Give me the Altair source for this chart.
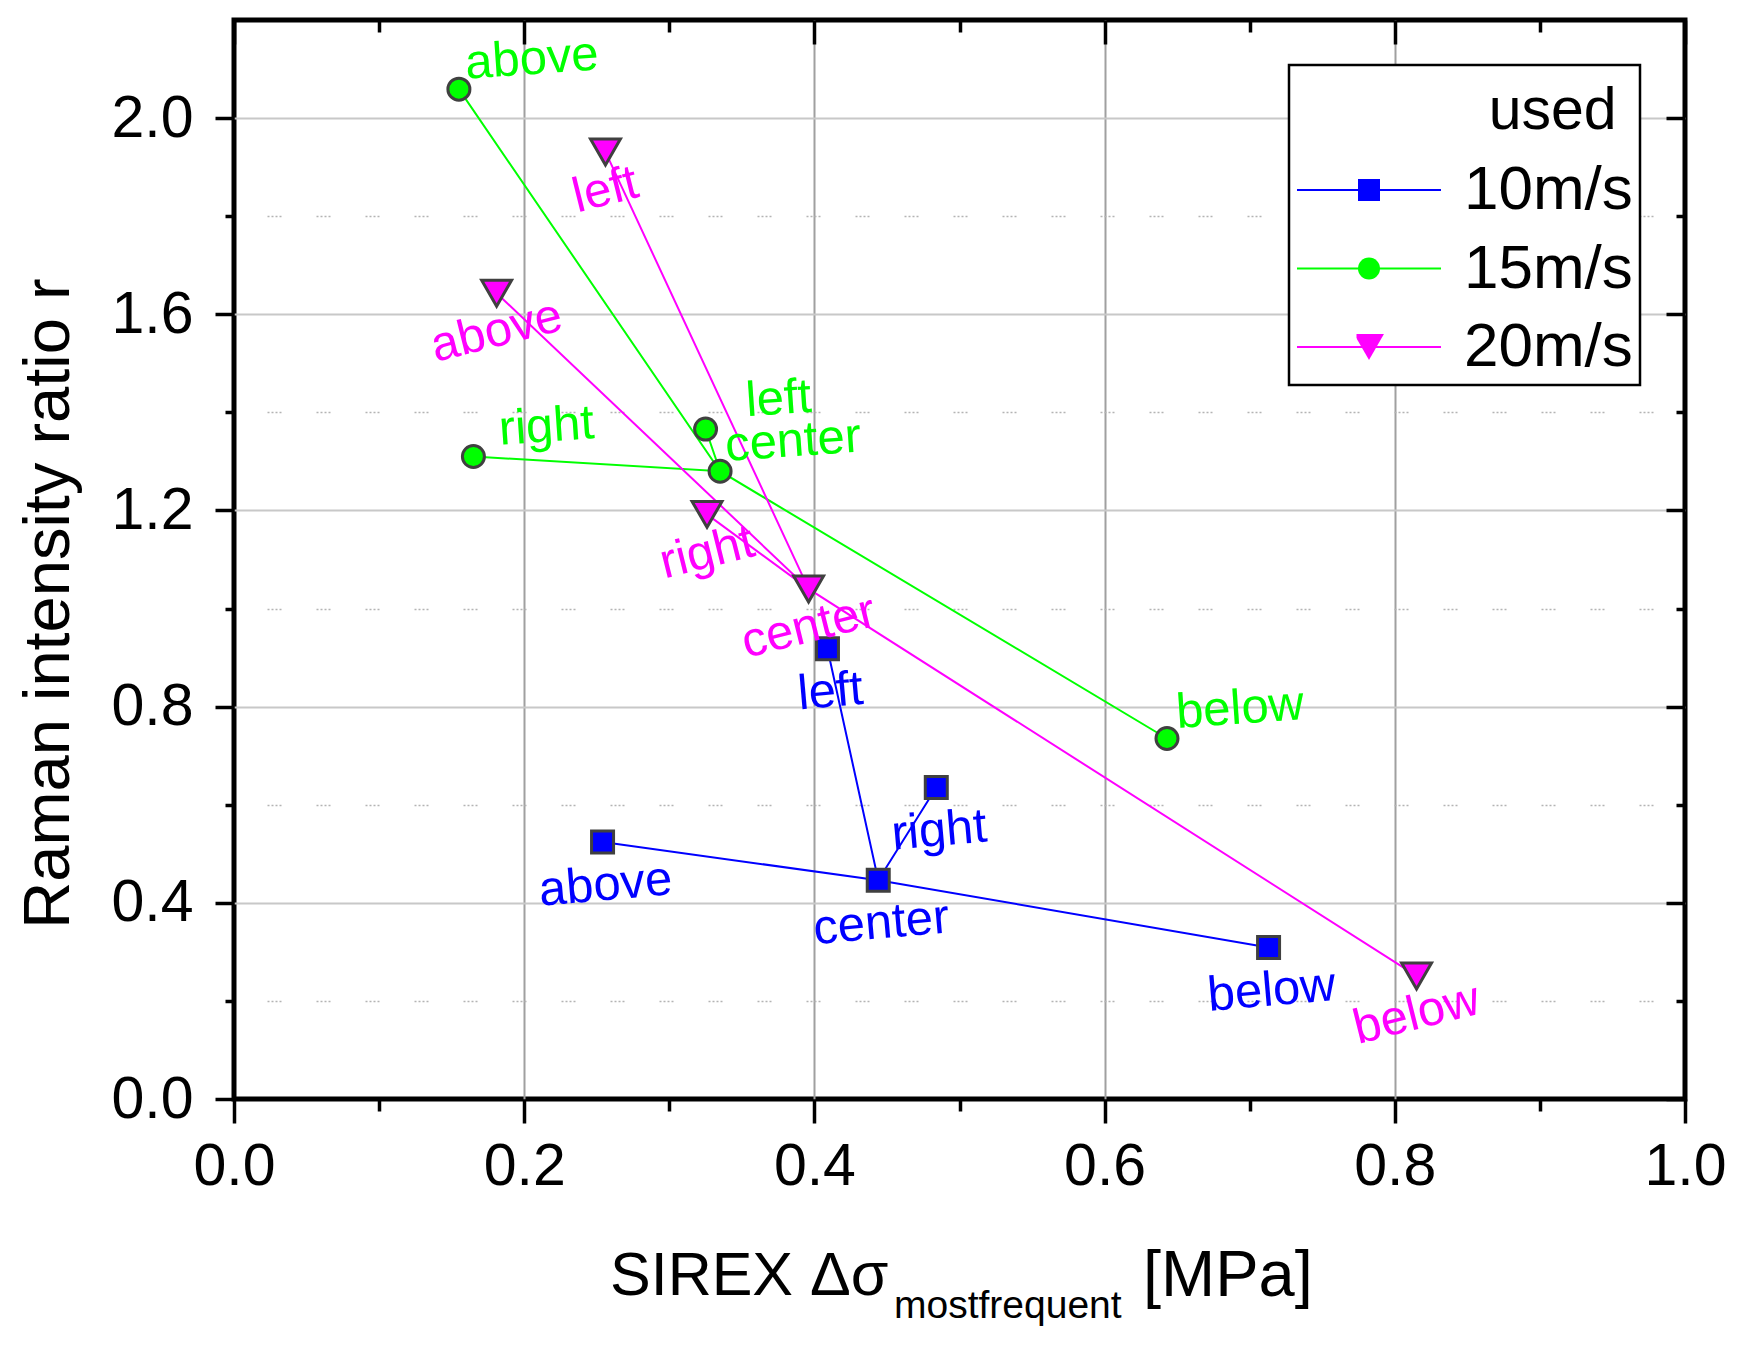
import math
import pandas as pd
import altair as alt

FONT = "Liberation Sans"

# ---------------- data ----------------
positions = ["above", "left", "center", "right", "below"]
series_names = ["10m/s", "15m/s", "20m/s"]
series_colors = ["#0000ff", "#00ff00", "#ff00ff"]

x_10 = [0.254, 0.409, 0.444, 0.484, 0.713]
y_10 = [0.524, 0.918, 0.446, 0.635, 0.309]
x_15 = [0.155, 0.325, 0.335, 0.165, 0.643]
y_15 = [2.059, 1.366, 1.280, 1.310, 0.735]
x_20 = [0.181, 0.256, 0.396, 0.326, 0.815]
y_20 = [1.643, 1.931, 1.040, 1.192, 0.251]

# points are joined as a cross: above-center-below and left-center-right
connections = [["above", "center", "below"], ["left", "center", "right"]]

x_tick_values = [0.0, 0.1, 0.2, 0.3, 0.4, 0.5, 0.6, 0.7, 0.8, 0.9, 1.0]
y_tick_values = [0.0, 0.2, 0.4, 0.6, 0.8, 1.0, 1.2, 1.4, 1.6, 1.8, 2.0]
x_major = [0.0, 0.2, 0.4, 0.6, 0.8, 1.0]
x_minor = [0.1, 0.3, 0.5, 0.7, 0.9]
y_major = [0.0, 0.4, 0.8, 1.2, 1.6, 2.0]
y_minor = [0.2, 0.6, 1.0, 1.4, 1.8]

x_title_parts = ["SIREX \u0394\u03c3", "mostfrequent", "[MPa]"]
y_title = "Raman intensity ratio r"
legend_title = "used"

# ---------------- tables built from the arrays ----------------
xs = {"10m/s": x_10, "15m/s": x_15, "20m/s": x_20}
ys = {"10m/s": y_10, "15m/s": y_15, "20m/s": y_20}

pts = pd.DataFrame([
    {"series": s, "pos": p, "x": xs[s][i], "y": ys[s][i]}
    for s in series_names for i, p in enumerate(positions)
])

line_rows = []
for s in series_names:
    for ci, chain in enumerate(connections):
        for k, p in enumerate(chain):
            i = positions.index(p)
            line_rows.append({"leg": s, "path": f"{s}|{ci}", "ord": k,
                              "x": xs[s][i], "y": ys[s][i]})
lines = pd.DataFrame(line_rows)

# ---------------- styles ----------------
W, H = 1451, 1079
xscale = alt.Scale(domain=[0, 1], nice=False, zero=False)
yscale = alt.Scale(domain=[0, 2.2], nice=False, zero=False)

X_MAJOR = "round(datum.value * 10) % 2 == 0"
Y_MAJOR = "round(datum.value * 10) % 4 == 0"
X_INNER = "datum.value > 0.001 && datum.value < 0.999"
Y_INNER = "datum.value > 0.001 && datum.value < 2.199"

ax_bottom = alt.Axis(
    orient="bottom", values=x_tick_values, title=None, domain=False,
    tickColor="black", tickWidth=3.5,
    tickSize={"condition": {"test": X_MAJOR, "value": 24}, "value": 12},
    labelExpr=f"{X_MAJOR} ? format(datum.value, '.1f') : ''",
    labelFont=FONT, labelFontSize=59, labelColor="black", labelPadding=14,
    labelFlush=False, labelOverlap=False,
    grid=True, gridColor="#a0a0a0", gridWidth=2,
    gridOpacity={"condition": {"test": f"{X_MAJOR} && {X_INNER}", "value": 1}, "value": 0},
)

ax_left = alt.Axis(
    orient="left", values=y_tick_values, title=y_title, domain=False,
    tickColor="black", tickWidth=3.5,
    tickSize={"condition": {"test": Y_MAJOR, "value": 19}, "value": 9},
    labelExpr=f"{Y_MAJOR} ? format(datum.value, '.1f') : ''",
    labelFont=FONT, labelFontSize=59, labelColor="black", labelPadding=22,
    labelFlush=False, labelOverlap=False,
    grid=True,
    gridColor={"condition": {"test": Y_MAJOR, "value": "#c8c8c8"}, "value": "#b4b4b4"},
    gridWidth={"condition": {"test": Y_MAJOR, "value": 2}, "value": 1.5},
    gridDash={"condition": {"test": Y_MAJOR, "value": [1, 0]}, "value": [2, 2, 2, 2, 2, 2, 2, 35]},
    gridDashOffset=16,
    gridOpacity={"condition": {"test": Y_INNER, "value": 1}, "value": 0},
    titleFont=FONT, titleFontSize=65, titleFontWeight="normal", titleColor="black",
    titleAngle=270, titleAlign="center", titleBaseline="alphabetic",
    titleX=-166, titleY=583,
)


def inner_axis(orient, values, size):
    return alt.Axis(orient=orient, values=values, title=None, domain=False,
                    labels=False, grid=False, tickColor="black", tickWidth=3.5,
                    tickSize=size, offset=-size)


ax_top_major = inner_axis("top", x_major, 24)
ax_top_minor = inner_axis("top", x_minor, 12)
ax_right_major = inner_axis("right", y_major, 19)
ax_right_minor = inner_axis("right", y_minor, 9)

LEG_X, LEG_Y = 1055, 45
common_leg = dict(
    orient="none", legendY=LEG_Y, direction="vertical", padding=7,
    titleFont=FONT, titleFontSize=59, titleFontWeight="normal", titleColor="black",
    titleBaseline="line-top", titleLineHeight=80, titlePadding=28,
    clipHeight=62, rowPadding=16.5, titleLimit=500,
)

legend_lines = alt.Legend(
    title=legend_title + "\u00a0\u200b", legendX=LEG_X, strokeColor="black", fillColor="white",
    cornerRadius=0, titleAnchor="end",
    labelFont=FONT, labelFontSize=62, labelColor="black", labelOffset=22, labelLimit=500,
    symbolType="stroke", symbolSize=20736, symbolStrokeWidth=2,
    **common_leg,
)

legend_marks = alt.Legend(
    title=legend_title, legendX=LEG_X + 60.5, titleOpacity=0,
    labelFontSize=1, labelOpacity=0,
    symbolSize=484, symbolStrokeColor="#404040", symbolStrokeWidth=3, symbolOpacity=1,
    **common_leg,
)

TRI_DOWN = "M-1.36,-1.18L1.36,-1.18L0,1.18Z"

lines_layer = alt.Chart(lines).mark_line(strokeWidth=2).encode(
    x=alt.X("x:Q", scale=xscale, axis=ax_bottom),
    y=alt.Y("y:Q", scale=yscale, axis=ax_left),
    color=alt.Color("leg:N", scale=alt.Scale(range=series_colors), legend=legend_lines),
    detail="path:N",
    order="ord:Q",
)

points_layer = alt.Chart(pts).mark_point(
    size=484, stroke="#404040", strokeWidth=3, opacity=1, fillOpacity=1
).encode(
    x=alt.X("x:Q", scale=xscale, axis=ax_top_major),
    y=alt.Y("y:Q", scale=yscale, axis=ax_right_major),
    fill=alt.Fill("series:N", scale=alt.Scale(domain=series_names, range=series_colors),
                  legend=legend_marks),
    shape=alt.Shape("series:N", scale=alt.Scale(domain=series_names,
                                                range=["square", "circle", TRI_DOWN]),
                    legend=legend_marks),
)

# per-series label placement: screen offset (px) and rotation (deg)
label_style = {
    "10m/s": (3, 43, -5),
    "15m/s": (73, -30, -4),
    "20m/s": (0, 38, -14),
}


def label_layer(s, color, xaxis, yaxis):
    sx, sy, ang = label_style[s]
    th = math.radians(ang)
    dx = sx * math.cos(th) + sy * math.sin(th)
    dy = -sx * math.sin(th) + sy * math.cos(th)
    return alt.Chart(pts[pts["series"] == s]).mark_text(
        font=FONT, fontSize=49, color=color, align="center", baseline="middle",
        angle=(360 + ang) % 360, dx=dx, dy=dy,
    ).encode(
        x=alt.X("x:Q", scale=xscale, axis=xaxis),
        y=alt.Y("y:Q", scale=yscale, axis=yaxis),
        text="pos:N",
    )


text_10 = label_layer("10m/s", series_colors[0], ax_top_minor, ax_right_minor)
text_15 = label_layer("15m/s", series_colors[1], None, None)
text_20 = label_layer("20m/s", series_colors[2], None, None)


def title_part(txt, size, px, py):
    return alt.Chart(pd.DataFrame({"t": [txt]})).mark_text(
        align="left", baseline="alphabetic", font=FONT, fontSize=size, color="black"
    ).encode(text="t:N", x=alt.value(px), y=alt.value(py))


t1 = title_part(x_title_parts[0], 61, 376, 1275)
t2 = title_part(x_title_parts[1], 39, 660, 1298)
t3 = title_part(x_title_parts[2], 65, 909, 1276)

chart = alt.layer(
    lines_layer, points_layer, text_10, text_15, text_20, t1, t2, t3
).resolve_axis(
    x="independent", y="independent"
).properties(
    width=W, height=H,
    autosize=alt.AutoSizeParams(type="none"),
    padding={"left": 226, "top": 12, "right": 50, "bottom": 245},
).configure_view(
    stroke="black", strokeWidth=5
).configure_legend(
    strokeWidth=2.5
)

chart.save("out.html", embed_options={"renderer": "svg", "actions": False})
